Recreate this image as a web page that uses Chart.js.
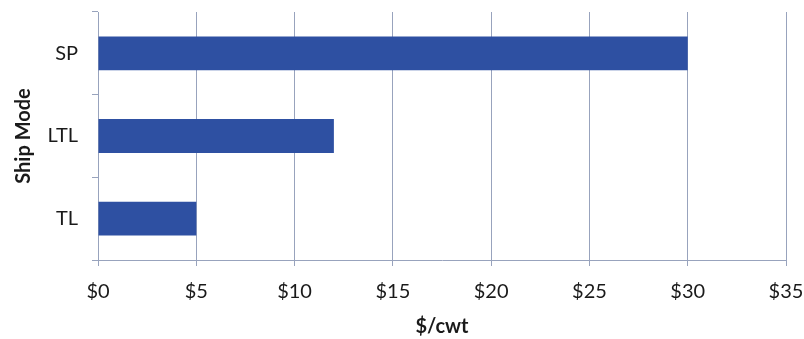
<!DOCTYPE html>
<html>
<head>
<meta charset="utf-8">
<script src="https://cdn.jsdelivr.net/npm/chart.js@4/dist/chart.umd.min.js"></script>
<style>
  html, body { margin: 0; padding: 0; background: #fff; }
  #wrap { width: 804px; height: 339px; }
</style>
</head>
<body>
<div id="wrap"><canvas id="shipChart"></canvas></div>
<script>
const shipModes = ['SP', 'LTL', 'TL'];
const costPerCwt = [30, 12, 5];
const xTicks = [0, 5, 10, 15, 20, 25, 30, 35];

const font = 'Lato, "Open Sans", sans-serif';
const gridColor = '#98a3bd';

const data = {
    labels: shipModes,
    datasets: [{
        label: '$/cwt',
        backgroundColor: 'rgb(46, 80, 162)',
        borderWidth: 0,
        data: costPerCwt,
        barPercentage: 0.41,
        categoryPercentage: 1
    }]
};

// keep the label overhang from shrinking the plot area
function noOverhang(axis) {
    axis.paddingLeft = 0;
    axis.paddingRight = 0;
    axis.paddingTop = 0;
    axis.paddingBottom = 0;
}

const config = {
    type: 'bar',
    data: data,
    options: {
        indexAxis: 'y',
        responsive: true,
        maintainAspectRatio: false,
        animation: false,
        layout: { padding: { top: 12, right: 18, left: 0, bottom: 0 } },
        plugins: {
            legend: { display: false },
            tooltip: { enabled: false }
        },
        scales: {
            x: {
                min: 0,
                max: 35,
                afterBuildTicks: (axis) => { axis.ticks = xTicks.map(v => ({ value: v })); },
                afterFit: (axis) => { axis.height = 79; noOverhang(axis); },
                border: { color: gridColor, width: 1 },
                grid: { color: gridColor, lineWidth: 1, tickLength: 6 },
                ticks: {
                    color: '#1a1a1a',
                    padding: 14,
                    maxRotation: 0,
                    font: { family: font, size: 20 },
                    callback: (v) => '$' + v
                },
                title: {
                    display: true,
                    text: '$/cwt',
                    color: '#1a1a1a',
                    padding: { top: 6, bottom: 0 },
                    font: { family: font, size: 20, weight: 'bold' }
                }
            },
            y: {
                afterFit: (axis) => { axis.width = 98; noOverhang(axis); },
                border: { color: gridColor, width: 1 },
                grid: { color: gridColor, drawOnChartArea: false, offset: true, tickLength: 6 },
                ticks: {
                    color: '#1a1a1a',
                    padding: 14,
                    font: { family: font, size: 20 }
                },
                title: {
                    display: true,
                    text: 'Ship Mode',
                    color: '#1a1a1a',
                    padding: { top: 12, bottom: 0 },
                    font: { family: font, size: 20, weight: 'bold' }
                }
            }
        }
    }
};

const shipChart = new Chart(document.getElementById('shipChart'), config);
</script>
</body>
</html>
